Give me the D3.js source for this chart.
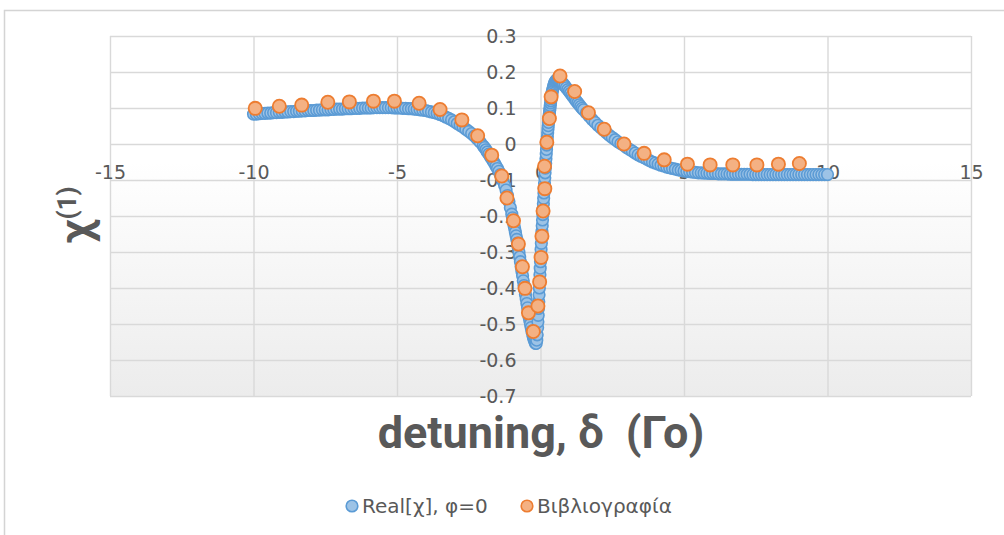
<!DOCTYPE html>
<html>
<head>
<meta charset="utf-8">
<script src="https://cdn.jsdelivr.net/npm/d3@7/dist/d3.min.js"></script>
<style>
  html, body { margin: 0; padding: 0; background: #ffffff; }
  svg { display: block; }
  .keep-spaces { white-space: pre; }
</style>
</head>
<body>
<div id="chart"></div>
<script>
// Axis ticks
const xTicks = [-15, -10, -5, 0, 5, 10, 15];
const yTicks = [0.3, 0.2, 0.1, 0, -0.1, -0.2, -0.3, -0.4, -0.5, -0.6, -0.7];

// Series 1: Real[χ], φ=0  (detuning in units of Γο)
const realDetuning = [
  -10, -9.9, -9.8, -9.7, -9.6, -9.5, -9.4, -9.3, -9.2, -9.1,
  -9, -8.9, -8.8, -8.7, -8.6, -8.5, -8.4, -8.3, -8.2, -8.1,
  -8, -7.9, -7.8, -7.7, -7.6, -7.5, -7.4, -7.3, -7.2, -7.1,
  -7, -6.9, -6.8, -6.7, -6.6, -6.5, -6.4, -6.3, -6.2, -6.1,
  -6, -5.9, -5.8, -5.7, -5.6, -5.5, -5.4, -5.3, -5.2, -5.1,
  -5, -4.9, -4.8, -4.7, -4.6, -4.5, -4.4, -4.3, -4.2, -4.1,
  -4, -3.9, -3.8, -3.7, -3.6, -3.5, -3.4, -3.3, -3.2, -3.1,
  -3, -2.9, -2.8, -2.7, -2.6, -2.5, -2.4, -2.3, -2.2, -2.1,
  -2, -1.95, -1.9, -1.85, -1.8, -1.75, -1.7, -1.65, -1.6, -1.55,
  -1.5, -1.45, -1.4, -1.35, -1.3, -1.25, -1.2, -1.15, -1.1, -1.05,
  -1, -0.975, -0.95, -0.925, -0.9, -0.875, -0.85, -0.825, -0.8, -0.775,
  -0.75, -0.725, -0.7, -0.675, -0.65, -0.625, -0.6, -0.575, -0.55, -0.525,
  -0.5, -0.475, -0.45, -0.425, -0.4, -0.375, -0.35, -0.325, -0.3, -0.275,
  -0.25, -0.225, -0.2, -0.175, -0.15, -0.13, -0.115, -0.1, -0.09, -0.08,
  -0.07, -0.06, -0.05, -0.04, -0.03, -0.02, -0.01, 0, 0.01, 0.02,
  0.03, 0.04, 0.05, 0.06, 0.07, 0.08, 0.09, 0.1, 0.11, 0.12,
  0.13, 0.14, 0.15, 0.16, 0.17, 0.18, 0.19, 0.2, 0.21, 0.22,
  0.23, 0.24, 0.25, 0.26, 0.27, 0.28, 0.29, 0.3, 0.31, 0.32,
  0.33, 0.34, 0.35, 0.36, 0.37, 0.38, 0.39, 0.4, 0.42, 0.44,
  0.46, 0.48, 0.5, 0.52, 0.54, 0.56, 0.58, 0.6, 0.62, 0.64,
  0.66, 0.68, 0.7, 0.75, 0.8, 0.85, 0.9, 0.95, 1, 1.05,
  1.1, 1.15, 1.2, 1.25, 1.3, 1.35, 1.4, 1.45, 1.5, 1.6,
  1.7, 1.8, 1.9, 2, 2.1, 2.2, 2.3, 2.4, 2.5, 2.6,
  2.7, 2.8, 2.9, 3, 3.1, 3.2, 3.3, 3.4, 3.5, 3.6,
  3.7, 3.8, 3.9, 4, 4.1, 4.2, 4.3, 4.4, 4.5, 4.6,
  4.7, 4.8, 4.9, 5, 5.1, 5.2, 5.3, 5.4, 5.5, 5.6,
  5.7, 5.8, 5.9, 6, 6.1, 6.2, 6.3, 6.4, 6.5, 6.6,
  6.7, 6.8, 6.9, 7, 7.1, 7.2, 7.3, 7.4, 7.5, 7.6,
  7.7, 7.8, 7.9, 8, 8.1, 8.2, 8.3, 8.4, 8.5, 8.6,
  8.7, 8.8, 8.9, 9, 9.1, 9.2, 9.3, 9.4, 9.5, 9.6,
  9.7, 9.8, 9.9, 10
];
const realChi = [
  0.083, 0.083, 0.084, 0.085, 0.085, 0.086, 0.086, 0.087, 0.087, 0.088,
  0.088, 0.089, 0.089, 0.090, 0.090, 0.091, 0.091, 0.092, 0.092, 0.093,
  0.093, 0.093, 0.094, 0.094, 0.095, 0.095, 0.095, 0.096, 0.096, 0.097,
  0.097, 0.097, 0.098, 0.098, 0.098, 0.099, 0.099, 0.099, 0.100, 0.100,
  0.100, 0.100, 0.101, 0.101, 0.101, 0.101, 0.101, 0.101, 0.101, 0.100,
  0.100, 0.100, 0.099, 0.099, 0.098, 0.098, 0.097, 0.096, 0.095, 0.094,
  0.093, 0.091, 0.089, 0.087, 0.085, 0.082, 0.079, 0.075, 0.071, 0.067,
  0.062, 0.057, 0.052, 0.047, 0.041, 0.035, 0.029, 0.022, 0.014, 0.005,
  -0.005, -0.010, -0.016, -0.022, -0.028, -0.035, -0.041, -0.047, -0.054, -0.061,
  -0.068, -0.076, -0.085, -0.094, -0.104, -0.115, -0.128, -0.143, -0.160, -0.177,
  -0.195, -0.205, -0.215, -0.225, -0.235, -0.245, -0.255, -0.265, -0.275, -0.288,
  -0.301, -0.314, -0.327, -0.340, -0.353, -0.366, -0.380, -0.393, -0.405, -0.418,
  -0.430, -0.443, -0.455, -0.468, -0.480, -0.490, -0.500, -0.510, -0.520, -0.528,
  -0.536, -0.543, -0.548, -0.554, -0.554, -0.545, -0.530, -0.510, -0.494, -0.476,
  -0.457, -0.438, -0.419, -0.400, -0.381, -0.363, -0.345, -0.327, -0.310, -0.293,
  -0.276, -0.259, -0.243, -0.227, -0.211, -0.196, -0.181, -0.166, -0.151, -0.136,
  -0.122, -0.108, -0.094, -0.080, -0.067, -0.054, -0.041, -0.028, -0.015, -0.003,
  0.009, 0.020, 0.031, 0.041, 0.051, 0.060, 0.069, 0.077, 0.085, 0.093,
  0.100, 0.107, 0.114, 0.120, 0.126, 0.131, 0.136, 0.141, 0.149, 0.156,
  0.162, 0.167, 0.171, 0.174, 0.176, 0.178, 0.179, 0.180, 0.180, 0.179,
  0.178, 0.177, 0.175, 0.171, 0.166, 0.161, 0.156, 0.151, 0.146, 0.141,
  0.135, 0.130, 0.124, 0.119, 0.114, 0.109, 0.104, 0.099, 0.095, 0.086,
  0.077, 0.068, 0.060, 0.052, 0.045, 0.038, 0.031, 0.024, 0.018, 0.012,
  0.006, 0.001, -0.004, -0.010, -0.015, -0.020, -0.025, -0.030, -0.034, -0.038,
  -0.042, -0.046, -0.050, -0.053, -0.056, -0.059, -0.061, -0.064, -0.066, -0.068,
  -0.070, -0.072, -0.073, -0.075, -0.076, -0.077, -0.078, -0.079, -0.080, -0.080,
  -0.081, -0.081, -0.082, -0.082, -0.082, -0.083, -0.083, -0.083, -0.083, -0.084,
  -0.084, -0.084, -0.084, -0.084, -0.084, -0.084, -0.084, -0.085, -0.085, -0.085,
  -0.085, -0.085, -0.085, -0.085, -0.085, -0.085, -0.085, -0.085, -0.085, -0.085,
  -0.085, -0.085, -0.085, -0.085, -0.085, -0.085, -0.085, -0.085, -0.085, -0.085,
  -0.085, -0.085, -0.085, -0.085
];

// Series 2: Βιβλιογραφία (reference values)
const refDetuning = [
  -9.94, -9.10, -8.32, -7.41, -6.66, -5.82, -5.09, -4.23, -3.50, -2.74,
  -2.19, -1.70, -1.35, -1.17, -0.94, -0.77, -0.63, -0.54, -0.42, -0.25,
  -0.09, -0.03, 0.02, 0.05, 0.09, 0.15, 0.14, 0.22, 0.31, 0.37,
  0.68, 1.19, 1.67, 2.22, 2.91, 3.61, 4.31, 5.12, 5.91, 6.70,
  7.54, 8.29, 9.02
];
const refChi = [
  0.099, 0.105, 0.108, 0.116, 0.117, 0.119, 0.119, 0.113, 0.096, 0.067,
  0.023, -0.031, -0.089, -0.150, -0.213, -0.278, -0.341, -0.401, -0.469, -0.521,
  -0.450, -0.383, -0.315, -0.256, -0.186, -0.124, -0.062, 0.005, 0.071, 0.131,
  0.189, 0.146, 0.087, 0.041, 0.000, -0.026, -0.044, -0.056, -0.058, -0.058,
  -0.058, -0.056, -0.054
];

const seriesNames = ["Real[χ], φ=0", "Βιβλιογραφία"];

// ---- layout ----
const W = 1004, H = 535;
const plot = { left: 110, right: 971, top: 36, bottom: 396 };
const textGray = "#595959";
const gridGray = "#d9d9d9";
const blue = { fill: "#9dc3e6", stroke: "#5b9bd5" };
const orange = { fill: "#f4b183", stroke: "#ed7d31" };

const x = d3.scaleLinear().domain([-15, 15]).range([plot.left, plot.right]);
const y = d3.scaleLinear().domain([-0.7, 0.3]).range([plot.bottom, plot.top]);
const fmt = v => String(Math.round(v * 10) / 10);

const svg = d3.select("#chart").append("svg").attr("width", W).attr("height", H);

// chart frame
svg.append("rect")
  .attr("x", 4.5).attr("y", 10.5).attr("width", W + 20).attr("height", H + 20)
  .attr("fill", "#ffffff").attr("stroke", "#d4d4d4").attr("stroke-width", 1.5);

// plot area gradient
const defs = svg.append("defs");
const grad = defs.append("linearGradient").attr("id", "plotFill")
  .attr("x1", 0).attr("y1", 0).attr("x2", 0).attr("y2", 1);
grad.append("stop").attr("offset", "0").attr("stop-color", "#ffffff");
grad.append("stop").attr("offset", "0.35").attr("stop-color", "#ffffff");
grad.append("stop").attr("offset", "1").attr("stop-color", "#ececec");

svg.append("rect")
  .attr("x", plot.left).attr("y", plot.top)
  .attr("width", plot.right - plot.left).attr("height", plot.bottom - plot.top)
  .attr("fill", "url(#plotFill)");

// gridlines
svg.append("g")
  .attr("transform", `translate(0,${plot.bottom})`)
  .call(d3.axisBottom(x).tickValues(xTicks).tickSize(-(plot.bottom - plot.top)).tickFormat(""))
  .call(g => g.select(".domain").remove())
  .call(g => g.selectAll("line").attr("stroke", gridGray).attr("stroke-width", 1.4));

svg.append("g")
  .attr("transform", `translate(${plot.left},0)`)
  .call(d3.axisLeft(y).tickValues(yTicks).tickSize(-(plot.right - plot.left)).tickFormat(""))
  .call(g => g.select(".domain").remove())
  .call(g => g.selectAll("line").attr("stroke", gridGray).attr("stroke-width", 1.4));

// tick labels (axes cross at the origin)
const labelFont = g => g.attr("font-family", "'DejaVu Sans', sans-serif")
  .attr("font-size", 19).selectAll("text").attr("fill", textGray);

svg.append("g")
  .attr("transform", `translate(0,${y(0)})`)
  .call(d3.axisBottom(x).tickValues(xTicks).tickSize(0).tickPadding(22).tickFormat(fmt))
  .call(g => g.select(".domain").remove())
  .call(labelFont);

svg.append("g")
  .attr("transform", `translate(${x(0)},0)`)
  .call(d3.axisLeft(y).tickValues(yTicks).tickSize(0).tickPadding(24).tickFormat(fmt))
  .call(g => g.select(".domain").remove())
  .call(labelFont);

// markers
const realPts = d3.zip(realDetuning, realChi);
const refPts = d3.zip(refDetuning, refChi);

svg.append("g").selectAll("circle").data(realPts).join("circle")
  .attr("cx", d => x(d[0])).attr("cy", d => y(d[1])).attr("r", 5.8)
  .attr("fill", blue.fill).attr("stroke", blue.stroke).attr("stroke-width", 1.6);

svg.append("g").selectAll("circle").data(refPts).join("circle")
  .attr("cx", d => x(d[0])).attr("cy", d => y(d[1])).attr("r", 6.6)
  .attr("fill", orange.fill).attr("stroke", orange.stroke).attr("stroke-width", 1.8);

// axis titles
svg.append("text")
  .attr("class", "keep-spaces")
  .attr("x", 541).attr("y", 448)
  .attr("text-anchor", "middle")
  .attr("font-family", "Roboto, sans-serif").attr("font-weight", "bold")
  .attr("font-size", 45).attr("fill", textGray)
  .text("detuning, δ  (Γο)");

const yTitle = svg.append("text")
  .attr("transform", "translate(91,243) rotate(-90)")
  .attr("font-family", "Roboto, sans-serif").attr("font-weight", "bold")
  .attr("fill", textGray);
yTitle.append("tspan").attr("font-size", 44).text("χ");
yTitle.append("tspan").attr("font-size", 26).attr("dy", -15).text("(1)");

// legend
const legend = [
  { name: seriesNames[0], c: blue, cx: 352 },
  { name: seriesNames[1], c: orange, cx: 527 }
];
const lg = svg.append("g");
legend.forEach(l => {
  lg.append("circle").attr("cx", l.cx).attr("cy", 506).attr("r", 5.8)
    .attr("fill", l.c.fill).attr("stroke", l.c.stroke).attr("stroke-width", 1.6);
  lg.append("text").attr("x", l.cx + 10).attr("y", 513)
    .attr("font-family", "'DejaVu Sans', sans-serif").attr("font-size", 20)
    .attr("fill", textGray).text(l.name);
});
</script>
</body>
</html>
